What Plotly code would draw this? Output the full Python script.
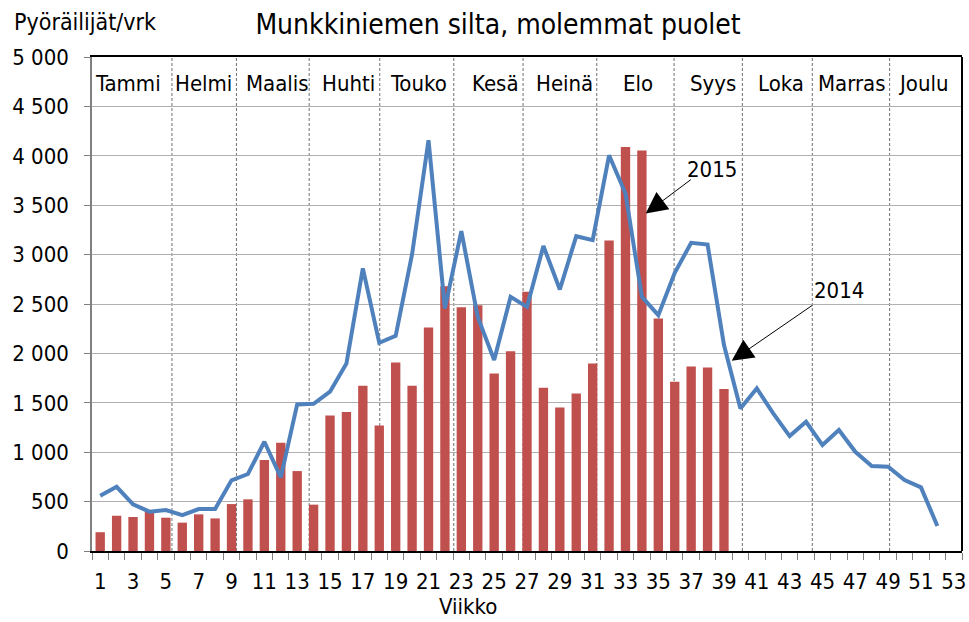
import plotly.graph_objects as go

weeks_2015 = list(range(1, 40))
cyclists_2015 = [190, 357, 344, 400, 337, 287, 371, 330, 475, 523,
                 920, 1096, 809, 469, 1372, 1406, 1672, 1271, 1908, 1672,
                 2262, 2680, 2468, 2488, 1797, 2023, 2623, 1652, 1453, 1595,
                 1898, 3142, 4090, 4053, 2353, 1713, 1868, 1858, 1639]

weeks_2014 = list(range(1, 53))
cyclists_2014 = [560, 650, 472, 398, 415, 364, 425, 425, 715, 779,
                 1106, 745, 1484, 1490, 1612, 1898, 2860, 2107, 2178, 3004,
                 4157, 2455, 3237, 2370, 1932, 2572, 2471, 3088, 2647, 3186,
                 3146, 4005, 3618, 2572, 2387, 2815, 3119, 3102, 2084, 1443,
                 1645, 1393, 1163, 1308, 1072, 1224, 1004, 860, 853, 718,
                 644, 253]

months = ["Tammi", "Helmi", "Maalis", "Huhti", "Touko", "Kesä", "Heinä",
          "Elo", "Syys", "Loka", "Marras", "Joulu"]
month_label_week = [2.72, 7.29, 11.82, 16.1, 20.4, 25.08, 29.3, 33.77,
                    38.36, 42.5, 46.8, 51.18]
month_boundary_week = [5.37, 9.30, 13.73, 18.03, 22.54, 26.76, 31.25,
                       35.96, 40.12, 44.38, 49.09]

x_tick_vals = list(range(1, 54, 2))
x_tick_text = [str(v) for v in x_tick_vals]
x_minor_ticks = [k + 0.5 for k in range(0, 54)]
y_tick_vals = list(range(0, 5001, 500))
y_tick_text = [f"{v:,}".replace(",", " ") for v in y_tick_vals]

FONT = "DejaVu Sans Condensed, DejaVu Sans, sans-serif"

fig = go.Figure()
fig.add_trace(go.Bar(x=weeks_2015, y=cyclists_2015, name="2015",
                     marker=dict(color="#C0504D", line=dict(width=0)),
                     width=0.57))
fig.add_trace(go.Scatter(x=weeks_2014, y=cyclists_2014, name="2014",
                         mode="lines", line=dict(color="#4F81BD", width=4)))

shapes = []
for b in month_boundary_week:
    shapes.append(dict(type="line", xref="x", yref="paper", x0=b, x1=b,
                       y0=0, y1=1, line=dict(color="#707070", width=1, dash="3px,2px"),
                       layer="below"))
shapes.append(dict(type="line", xref="paper", yref="paper", x0=1, x1=1,
                   y0=0, y1=1, line=dict(color="black", width=2)))

annotations = []
for name, xw in zip(months, month_label_week):
    annotations.append(dict(text=name, x=xw, xref="x", y=0.947, yref="paper",
                            showarrow=False, xanchor="center", yanchor="middle",
                            font=dict(size=22, color="black", family=FONT)))

annotations += [
    dict(text="", x=34.23, y=3416, ax=37.07, ay=3770, xref="x", yref="y",
         axref="x", ayref="y", showarrow=True, arrowhead=2, arrowsize=4.3,
         arrowwidth=1, arrowcolor="black"),
    dict(text="", x=39.47, y=1925, ax=44.48, ay=2498, xref="x", yref="y",
         axref="x", ayref="y", showarrow=True, arrowhead=2, arrowsize=4.3,
         arrowwidth=1, arrowcolor="black"),
    dict(text="2015", x=38.24, y=3864, xref="x", yref="y", showarrow=False,
         font=dict(size=22, color="black", family=FONT)),
    dict(text="2014", x=46.0, y=2640, xref="x", yref="y", showarrow=False,
         font=dict(size=22, color="black", family=FONT)),
    dict(text="Pyöräilijät/vrk", x=-0.092, y=1.071, xref="paper", yref="paper",
         xanchor="left", yanchor="middle", showarrow=False,
         font=dict(size=23, color="black", family=FONT)),
    dict(text="Viikko", x=0.432, y=-0.113, xref="paper", yref="paper",
         xanchor="center", yanchor="middle", showarrow=False,
         font=dict(size=22, color="black", family=FONT)),
]

fig.update_layout(
    width=969, height=622,
    margin=dict(l=92, r=7, t=57, b=71),
    paper_bgcolor="white", plot_bgcolor="white",
    showlegend=False,
    title=dict(text="Munkkiniemen silta, molemmat puolet", x=0.514, xref="container",
               xanchor="center", y=0.961, yref="container", yanchor="middle",
               font=dict(size=28, color="black", family=FONT)),
    font=dict(family=FONT, color="black"),
    shapes=shapes,
    annotations=annotations,
    xaxis=dict(range=[0.5, 53.5], tickmode="array", tickvals=x_tick_vals,
               ticktext=x_tick_text, ticks="", showgrid=False, zeroline=False,
               showline=True, linecolor="black", linewidth=2, mirror=True,
               ticklabelstandoff=10, automargin=False,
               tickfont=dict(size=22, color="black", family=FONT),
               minor=dict(tickmode="array", tickvals=x_minor_ticks, ticks="outside",
                          ticklen=7, tickwidth=1, tickcolor="#808080", showgrid=False)),
    yaxis=dict(range=[0, 5000], tickmode="array", tickvals=y_tick_vals,
               ticktext=y_tick_text, ticks="outside", ticklen=6, tickwidth=1,
               tickcolor="#808080", showgrid=True, gridcolor="#B0B0B0", gridwidth=1,
               zeroline=False, showline=True, linecolor="#808080", linewidth=1.5,
               ticklabelstandoff=11, automargin=False,
               tickfont=dict(size=22, color="black", family=FONT)),
)

fig.write_html("out.html", config={"displayModeBar": False},
               post_script="document.body.style.margin='0';document.body.style.padding='0';")
